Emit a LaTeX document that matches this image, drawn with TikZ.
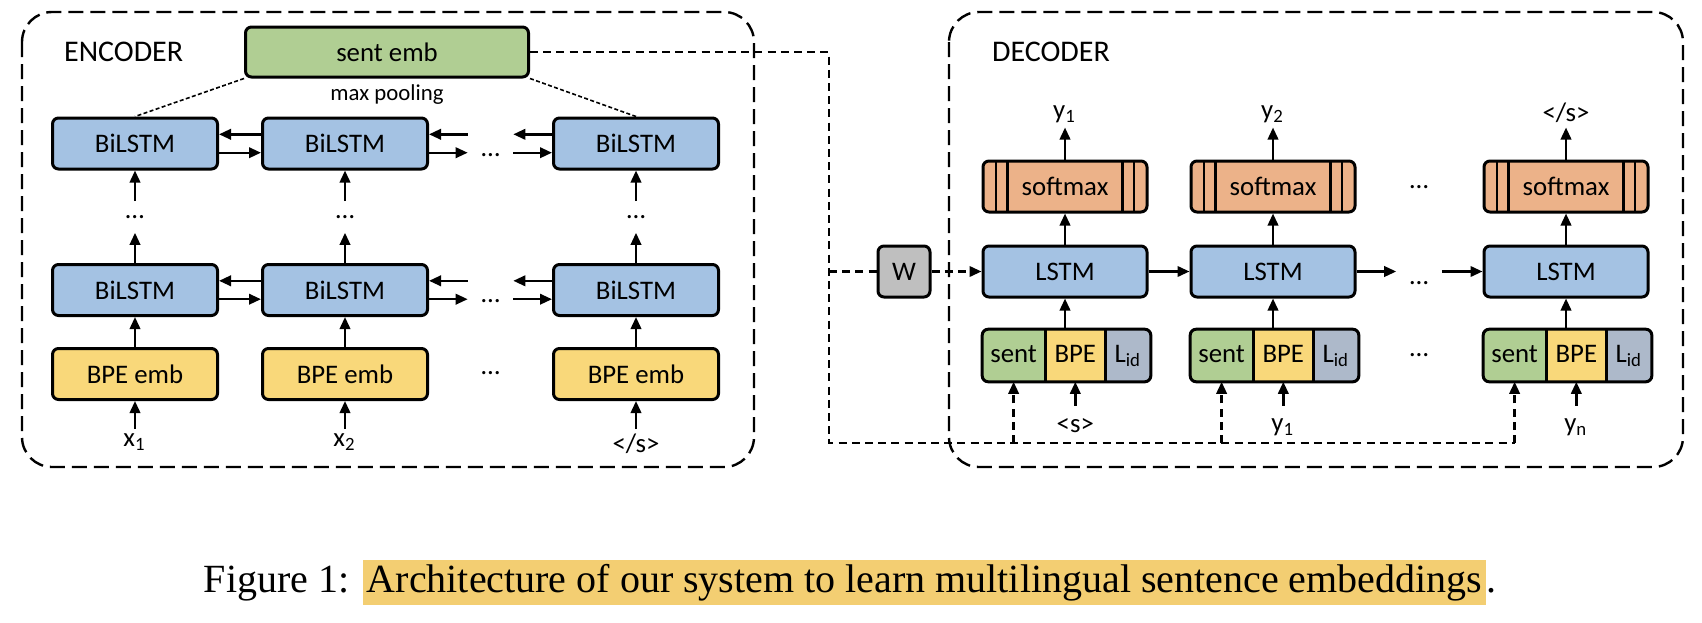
\documentclass[tikz,border=0pt]{standalone}
\usepackage{fontspec}
\setmainfont{Carlito}
\newfontfamily\capfont{Liberation Serif}
\usetikzlibrary{arrows.meta,positioning,calc}
\definecolor{embgreen}{RGB}{176,206,147}
\definecolor{lstmblue}{RGB}{164,194,227}
\definecolor{bpeyellow}{RGB}{249,216,122}
\definecolor{smorange}{RGB}{236,178,137}
\definecolor{wgray}{RGB}{191,191,191}
\definecolor{lidgray}{RGB}{173,185,202}
\definecolor{hlyellow}{RGB}{243,206,114}

\begin{document}
\begin{tikzpicture}[x=0.25pt,y=-0.25pt,font=\fontsize{6.7}{8}\selectfont,
  box/.style={draw,line width=0.75pt,rounded corners=1.5pt,minimum width=41.25pt,minimum height=12.75pt,inner sep=0pt},
  smbox/.style={box,fill=smorange,minimum width=41pt,path picture={\foreach \f in {0.08,0.15,0.85,0.92}
    \draw[line width=0.6pt] ($(path picture bounding box.north west)!\f!(path picture bounding box.north east)$)--($(path picture bounding box.south west)!\f!(path picture bounding box.south east)$);}},
  seg/.style={minimum height=12.75pt,inner sep=0pt,text height=4.6pt,text depth=1.2pt},
  arr/.style={-{Triangle[length=3pt,width=2.6pt]},line width=0.6pt},
  frame/.style={line width=0.6pt,dash pattern=on 3.75pt off 1.75pt,rounded corners=7.5pt},
  dline/.style={line width=0.6pt,dash pattern=on 2pt off 1.3pt},
  pool/.style={line width=0.4pt,dash pattern=on 1pt off 0.6pt},
  hdots/.style={inner sep=0pt,minimum width=11pt,text height=6.4pt,text depth=0pt},
  vdots/.style={inner sep=0pt,minimum height=7.5pt},
  lab/.style={inner sep=1pt}]
\useasboundingbox (0,0) rectangle (1702,622);

\draw[frame] (22,12) rectangle (754,467);
\node[anchor=west,font=\fontsize{7.5}{9}\selectfont] (enc) at (50,52) {ENCODER};
\node[box,fill=embgreen,minimum width=70.75pt,minimum height=12.5pt] (sentemb) at (387,52) {sent emb};
\node[font=\fontsize{5.7}{7}\selectfont] (pool) at (387,95) {max pooling};

\node[box,fill=lstmblue] (top1) at (135,143.5) {BiLSTM};
\node[box,fill=lstmblue] (top2) at (345,143.5) {BiLSTM};
\node[box,fill=lstmblue] (top3) at (636,143.5) {BiLSTM};
\node[vdots] (vd1) at (135,217) {…};
\node[vdots] (vd2) at (345,217) {…};
\node[vdots] (vd3) at (636,217) {…};
\node[box,fill=lstmblue] (bot1) at (135,290) {BiLSTM};
\node[box,fill=lstmblue] (bot2) at (345,290) {BiLSTM};
\node[box,fill=lstmblue] (bot3) at (636,290) {BiLSTM};
\node[box,fill=bpeyellow] (bpe1) at (135,374) {BPE emb};
\node[box,fill=bpeyellow] (bpe2) at (345,374) {BPE emb};
\node[box,fill=bpeyellow] (bpe3) at (636,374) {BPE emb};
\node[hdots] (hd1) at (490.5,143.5) {…};
\node[hdots] (hd2) at (490.5,290) {…};
\node (hd3) at (490.5,373) {…};
\node[lab,below=7pt of bpe1] (x1) {x\textsubscript{1}};
\node[lab,below=7pt of bpe2] (x2) {x\textsubscript{2}};
\node[lab,below=7pt of bpe3] (xe) {</s>};

\draw[pool] (sentemb.south west) -- (top1.north);
\draw[pool] (sentemb.south east) -- (top3.north);
\draw[arr] (vd1) -- (top1); \draw[arr] (bot1) -- (vd1); \draw[arr] (bpe1) -- (bot1); \draw[arr] (x1) -- (bpe1);
\draw[arr] (vd2) -- (top2); \draw[arr] (bot2) -- (vd2); \draw[arr] (bpe2) -- (bot2); \draw[arr] (x2) -- (bpe2);
\draw[arr] (vd3) -- (top3); \draw[arr] (bot3) -- (vd3); \draw[arr] (bpe3) -- (bot3); \draw[arr] (xe) -- (bpe3);
\draw[arr] ([yshift=2.3pt]top2.west) -- ([yshift=2.3pt]top1.east);
\draw[arr] ([yshift=-2.3pt]top1.east) -- ([yshift=-2.3pt]top2.west);
\draw[arr] ([yshift=2.3pt]hd1.west) -- ([yshift=2.3pt]top2.east);
\draw[arr] ([yshift=-2.3pt]top2.east) -- ([yshift=-2.3pt]hd1.west);
\draw[arr] ([yshift=2.3pt]top3.west) -- ([yshift=2.3pt]hd1.east);
\draw[arr] ([yshift=-2.3pt]hd1.east) -- ([yshift=-2.3pt]top3.west);
\draw[arr] ([yshift=2.3pt]bot2.west) -- ([yshift=2.3pt]bot1.east);
\draw[arr] ([yshift=-2.3pt]bot1.east) -- ([yshift=-2.3pt]bot2.west);
\draw[arr] ([yshift=2.3pt]hd2.west) -- ([yshift=2.3pt]bot2.east);
\draw[arr] ([yshift=-2.3pt]bot2.east) -- ([yshift=-2.3pt]hd2.west);
\draw[arr] ([yshift=2.3pt]bot3.west) -- ([yshift=2.3pt]hd2.east);
\draw[arr] ([yshift=-2.3pt]hd2.east) -- ([yshift=-2.3pt]bot3.west);

\draw[frame] (949,12) rectangle (1683,467);
\node[anchor=west,font=\fontsize{7.5}{9}\selectfont] (dec) at (978,52) {DECODER};
\node[box,fill=wgray,minimum width=13pt] (w) at (904,271.5) {W};
\node[box,fill=lstmblue,minimum width=41pt] (lstm1) at (1065,271.5) {LSTM};
\node[box,fill=lstmblue,minimum width=41pt] (lstm2) at (1273,271.5) {LSTM};
\node[box,fill=lstmblue,minimum width=41pt] (lstm3) at (1566,271.5) {LSTM};
\node[smbox] (sm1) at (1065,186.5) {softmax};
\node[smbox] (sm2) at (1273,186.5) {softmax};
\node[smbox] (sm3) at (1566,186.5) {softmax};
\node[lab,above=8pt of sm1] (y1) {y\textsubscript{1}};
\node[lab,above=8pt of sm2] (y2) {y\textsubscript{2}};
\node[lab,above=8pt of sm3] (ye) {</s>};
\node (hs) at (1419,187) {…};
\node[hdots] (hl) at (1419,271.5) {…};
\node (hi) at (1419,355) {…};

\node[seg,fill=embgreen,minimum width=15.3pt] (s1) at (1013.6,355.5) {sent};
\node[seg,fill=bpeyellow,minimum width=14.75pt,right=0pt of s1] (b1) {BPE};
\node[seg,fill=lidgray,minimum width=10.9pt,right=0pt of b1] (l1) {L\textsubscript{id}};
\node[seg,fill=embgreen,minimum width=15.3pt] (s2) at (1221.6,355.5) {sent};
\node[seg,fill=bpeyellow,minimum width=14.75pt,right=0pt of s2] (b2) {BPE};
\node[seg,fill=lidgray,minimum width=10.9pt,right=0pt of b2] (l2) {L\textsubscript{id}};
\node[seg,fill=embgreen,minimum width=15.3pt] (s3) at (1514.6,355.5) {sent};
\node[seg,fill=bpeyellow,minimum width=14.75pt,right=0pt of s3] (b3) {BPE};
\node[seg,fill=lidgray,minimum width=10.9pt,right=0pt of b3] (l3) {L\textsubscript{id}};
\draw[line width=0.75pt,rounded corners=1.5pt] (s1.north west) rectangle (l1.south east);
\draw[line width=0.75pt] (s1.north east) -- (s1.south east) (b1.north east) -- (b1.south east);
\draw[line width=0.75pt,rounded corners=1.5pt] (s2.north west) rectangle (l2.south east);
\draw[line width=0.75pt] (s2.north east) -- (s2.south east) (b2.north east) -- (b2.south east);
\draw[line width=0.75pt,rounded corners=1.5pt] (s3.north west) rectangle (l3.south east);
\draw[line width=0.75pt] (s3.north east) -- (s3.south east) (b3.north east) -- (b3.south east);
\node[lab,below=8pt of b1] (t1) {<s>};
\node[lab,below=8pt of b2] (t2) {y\textsubscript{1}};
\node[lab,below=8pt of b3] (t3) {y\textsubscript{n}};

\draw[arr] (lstm1) -- (lstm2);
\draw[arr] (lstm2) -- (hl);
\draw[arr] (hl) -- (lstm3);
\draw[arr] (b1.north -| lstm1) -- (lstm1); \draw[arr] (lstm1) -- (sm1); \draw[arr] (sm1) -- (y1);
\draw[arr] (b2.north -| lstm2) -- (lstm2); \draw[arr] (lstm2) -- (sm2); \draw[arr] (sm2) -- (y2);
\draw[arr] (b3.north -| lstm3) -- (lstm3); \draw[arr] (lstm3) -- (sm3); \draw[arr] (sm3) -- (ye);
\draw[arr,shorten <=2pt] (t1) -- (b1);
\draw[arr,shorten <=2pt] (t2) -- (b2);
\draw[arr,shorten <=2pt] (t3) -- (b3);

\coordinate (bend) at (829,52);
\coordinate (foot) at (829,443);
\draw[dline] (sentemb) -- (bend) -- (foot) -- (foot -| s3);
\draw[dline,arr] (foot -| s1) -- (s1);
\draw[dline,arr] (foot -| s2) -- (s2);
\draw[dline,arr] (foot -| s3) -- (s3);
\draw[dline] (foot |- w) -- (w);
\draw[dline,arr] (w) -- (lstm1);

\node[font={\capfont\fontsize{10}{12}\selectfont},anchor=base] (cap) at (850,592) {Figure 1: \setlength{\fboxsep}{1pt}\colorbox{hlyellow}{Architecture of our system to learn multilingual sentence embeddings}.};
\end{tikzpicture}
\end{document}
